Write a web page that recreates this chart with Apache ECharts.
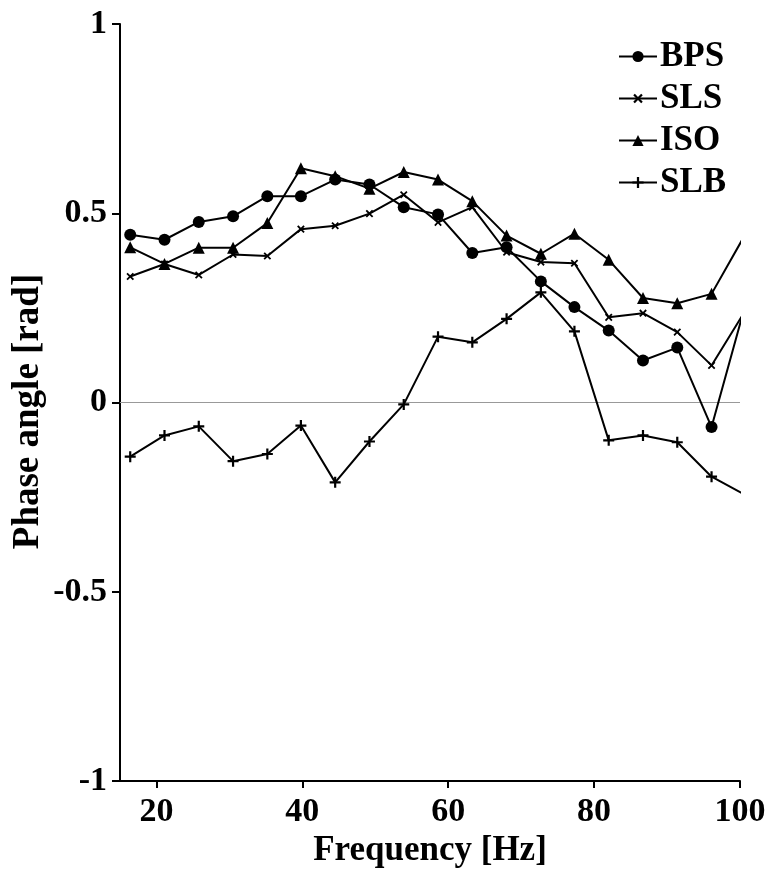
<!DOCTYPE html>
<html>
<head>
<meta charset="utf-8">
<script src="https://cdn.jsdelivr.net/npm/echarts@6/dist/echarts.min.js"></script>
<style>html,body{margin:0;padding:0;background:#fff}#c{width:779px;height:882px}</style>
</head>
<body>
<div id="c"></div>
<script>
const freqs = [16.4, 21.1, 25.8, 30.5, 35.2, 39.8, 44.5, 49.2, 53.9, 58.6, 63.3, 68.0, 72.7, 77.3, 82.0, 86.7, 91.4, 96.1, 100.8];
const bps = [0.443, 0.430, 0.477, 0.492, 0.545, 0.545, 0.589, 0.576, 0.516, 0.497, 0.395, 0.410, 0.320, 0.252, 0.190, 0.111, 0.145, -0.065, 0.263];
const sls = [0.333, 0.366, 0.337, 0.391, 0.387, 0.458, 0.467, 0.499, 0.549, 0.476, 0.516, 0.397, 0.371, 0.368, 0.225, 0.236, 0.186, 0.098, 0.245];
const iso = [0.410, 0.366, 0.409, 0.409, 0.474, 0.619, 0.598, 0.565, 0.609, 0.589, 0.532, 0.441, 0.393, 0.446, 0.377, 0.276, 0.262, 0.287, 0.447];
const slb = [-0.143, -0.087, -0.063, -0.155, -0.136, -0.061, -0.211, -0.103, -0.005, 0.174, 0.159, 0.221, 0.291, 0.188, -0.100, -0.087, -0.105, -0.196, -0.245];
const xTicks = [20, 40, 60, 80, 100];
const seriesNames = ['BPS', 'SLS', 'ISO', 'SLB'];

const FONT = "'Liberation Serif', 'Times New Roman', serif";
const plusPath = 'path://M4,0 H6 V4 H10 V6 H6 V10 H4 V6 H0 V4 H4 Z';
const pair = arr => freqs.map((f, i) => [f, arr[i]]);

function mkSeries(name, arr, symbol, size, rot) {
  return {
    name: name, type: 'line', data: pair(arr), clip: true,
    symbol: symbol, symbolSize: size, symbolRotate: rot || 0,
    showAllSymbol: true,
    lineStyle: { color: '#000', width: 2 },
    itemStyle: { color: '#000' },
    emphasis: { disabled: true },
    animation: false
  };
}

const series = [
  mkSeries(seriesNames[0], bps, 'circle', 12),
  mkSeries(seriesNames[1], sls, plusPath, 9, 45),
  mkSeries(seriesNames[2], iso, 'triangle', 12),
  mkSeries(seriesNames[3], slb, plusPath, 11)
];
series[0].markLine = {
  silent: true, symbol: 'none', label: { show: false },
  lineStyle: { color: '#999', width: 1, type: 'solid' },
  data: [{ yAxis: 0 }], animation: false, z: 1
};

const chart = echarts.init(document.getElementById('c'));
chart.setOption({
  animation: false,
  backgroundColor: '#fff',
  grid: { left: 120, right: 39, top: 24, bottom: 101 },
  legend: {
    orient: 'vertical', left: 618, top: 39, padding: 0,
    itemWidth: 38, itemHeight: 14, itemGap: 7,
    textStyle: { fontFamily: FONT, fontWeight: 'bold', fontSize: 35, color: '#000', padding: [0, 0, 0, -2] },
    data: seriesNames
  },
  xAxis: {
    type: 'value', min: 15, max: 100,
    name: 'Frequency [Hz]', nameLocation: 'middle', nameGap: 46,
    nameTextStyle: { fontFamily: FONT, fontWeight: 'bold', fontSize: 35, color: '#000' },
    axisLine: { show: true, onZero: false, lineStyle: { color: '#000', width: 2 } },
    axisTick: { show: true, length: 7, lineStyle: { color: '#000', width: 2 }, customValues: xTicks },
    axisLabel: { fontFamily: FONT, fontWeight: 'bold', fontSize: 34, color: '#000', margin: 14, customValues: xTicks },
    splitLine: { show: false }
  },
  yAxis: {
    type: 'value', min: -1, max: 1, interval: 0.5,
    name: 'Phase angle [rad]', nameLocation: 'middle', nameGap: 73, nameMoveOverlap: false,
    nameTextStyle: { fontFamily: FONT, fontWeight: 'bold', fontSize: 37, color: '#000', padding: [0, 18, 0, 0] },
    axisLine: { show: true, onZero: false, lineStyle: { color: '#000', width: 2 } },
    axisTick: { show: true, length: 8, lineStyle: { color: '#000', width: 2 } },
    axisLabel: { fontFamily: FONT, fontWeight: 'bold', fontSize: 34, color: '#000', margin: 13 },
    splitLine: { show: false }
  },
  series: series
});
</script>
</body>
</html>
